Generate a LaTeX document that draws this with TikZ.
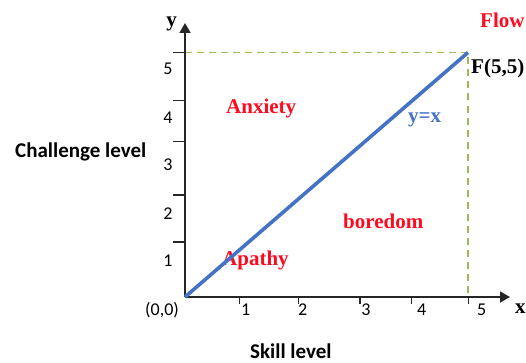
\documentclass[tikz,border=0pt]{standalone}
\usepackage{fontspec}
\setmainfont{Liberation Serif}
\newfontfamily\calibri{Carlito}
\usepackage{xcolor}
\usetikzlibrary{arrows.meta, positioning}
\definecolor{lineblue}{HTML}{4472C4}
\definecolor{dashgreen}{HTML}{9BBB59}
\definecolor{labelred}{HTML}{FF0A1E}

\begin{document}
\begin{tikzpicture}[x=1pt, y=1pt,
			axis/.style={draw=black!85, line width=1.8pt, -{Triangle[length=10pt, width=11pt]}},
			tickmark/.style={draw=black!85, line width=1.4pt},
			guide/.style={draw=dashgreen, line width=1.5pt, dash pattern=on 7pt off 5pt},
			region/.style={text=labelred, inner sep=0pt, anchor=base west, font=\fontsize{21}{24}\selectfont\bfseries},
			pointlabel/.style={inner sep=0pt, anchor=base west, font=\fontsize{21}{24}\selectfont\bfseries},
			ticklabel/.style={inner sep=0pt, anchor=base, font=\calibri\fontsize{18}{20}\selectfont},
			axistitle/.style={inner sep=0pt, anchor=base west, font=\calibri\fontsize{21}{23}\selectfont\bfseries}]
			
			\useasboundingbox (0,0) rectangle (526,362);
			
			\coordinate (O) at (185,65);
			\coordinate (ytip) at (185,339);
			\coordinate (xtip) at (510,65);
			\coordinate (F) at (468,309.5);
			\coordinate (Fy) at (185,309.5);
			\coordinate (Fx) at (468,65);
			
			\draw[guide] (Fy) -- (F) -- (Fx);
			
			\foreach \t/\l/\b in {309.5/5/287, 261.3/4/239, 220.3/3/191.5, 167/2/143, 120/1/96}
				\draw[tickmark] (173,\t) -- (185,\t) node (ylab\l) [ticklabel] at (168,\b) {\l};
			\foreach \t/\c/\l in {239.3/245.7/1, 298.3/302.7/2, 360/366/3, 411.7/421.7/4, 468.3/481.7/5}
				\draw[tickmark] (\t,65) -- (\t,58) node (xlab\l) [ticklabel] at (\c,47) {\l};
			
			\draw[axis] (O) -- (ytip);
			\draw[axis] (O) -- (xtip);
			
			\node (origin) [ticklabel, anchor=base west] at (145,47) {(0,0)};
			\node (yname) [pointlabel, anchor=base] at (171.7,335) {y};
			\node (xname) [pointlabel] at (515,49) {x};
			
			\node (anxiety) [region] at (226,249) {Anxiety};
			\node (boredom) [region] at (343,134) {boredom};
			\node (apathy) [region] at (222,97) {Apathy};
			\node (flow) [region] at (480,334) {Flow};
			
			\draw[lineblue, line width=3.6pt] (O) -- (F);
			
			\node (diag) [pointlabel, text=lineblue] at (408,240) {y=x};
			\node (fpoint) [pointlabel] at (471,288) {F(5,5)};
			
			\node (challenge) [axistitle] at (15,205) {Challenge level};
			\node (skill) [axistitle] at (250,4) {Skill level};
		\end{tikzpicture}
\end{document}
